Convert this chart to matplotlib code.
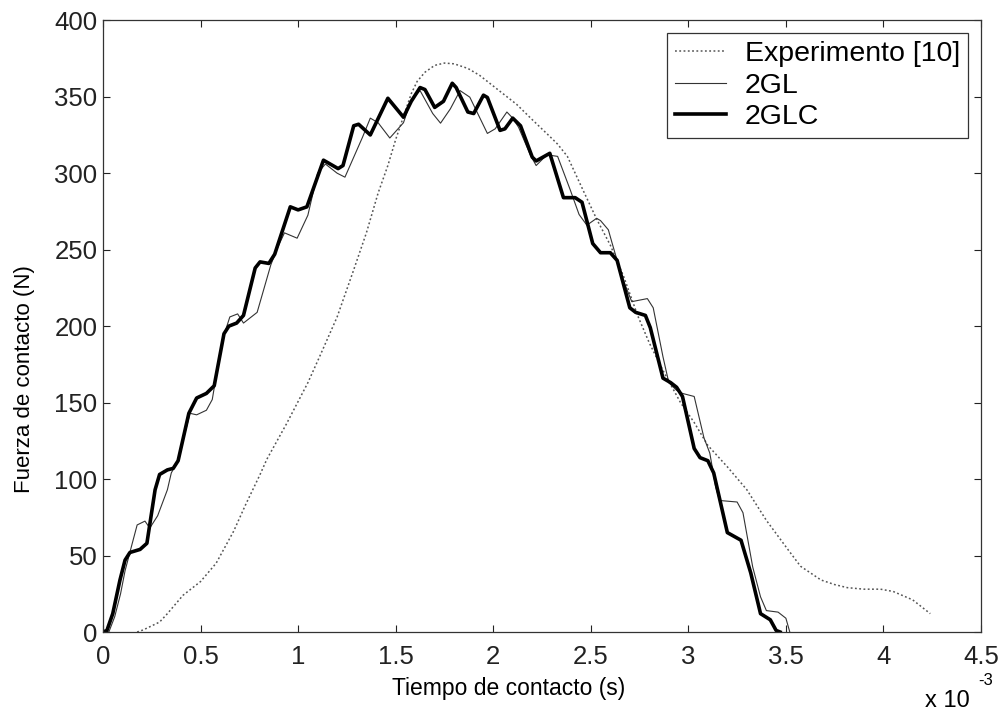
import numpy as np
import matplotlib.pyplot as plt

plt.rcParams['font.family'] = ['Liberation Sans', 'DejaVu Sans']

# Experimento [10] (tiempo en ms, fuerza en N)
t_exp = [0.175, 0.205, 0.29, 0.33, 0.41, 0.5, 0.58, 0.67, 0.73, 0.805, 0.84, 0.94, 1.05,
         1.11, 1.2, 1.28, 1.35, 1.41, 1.46, 1.5, 1.54, 1.58, 1.61, 1.65, 1.7, 1.75,
         1.8, 1.87, 1.93, 2.0, 2.05, 2.12, 2.2, 2.29, 2.33, 2.38, 2.42, 2.46, 2.53,
         2.6, 2.67, 2.74, 2.8, 2.87, 2.96, 3.03, 3.10, 3.2, 3.3, 3.4, 3.51, 3.575,
         3.68, 3.75, 3.815, 3.9, 3.985, 4.05, 4.15, 4.24]
f_exp = [0, 1.3, 6.5, 12, 24, 33, 45, 66, 83, 103, 113, 136, 163,
         180, 206, 235, 261, 287, 305, 322, 337, 352, 360, 366, 370.5, 372,
         371.5, 368.5, 364, 357, 352, 345, 335, 324, 319, 311, 300, 289, 270,
         253, 232, 207, 189, 171, 150, 137, 122, 108, 93, 73, 54, 43,
         34, 31, 29, 28, 28, 26.5, 21, 12]

# 2GL
t_2gl = [0, 0.03, 0.06, 0.09, 0.113, 0.15, 0.175, 0.215, 0.24, 0.28, 0.33, 0.35, 0.38,
         0.43, 0.446, 0.48, 0.53, 0.56, 0.61, 0.65, 0.69, 0.72, 0.79, 0.86, 0.89, 0.93,
         0.995, 1.05, 1.1, 1.14, 1.2, 1.24, 1.33, 1.37, 1.41, 1.47, 1.54, 1.58, 1.625,
         1.69, 1.73, 1.78, 1.83, 1.88, 1.97, 2.01, 2.07, 2.10, 2.13, 2.19, 2.22, 2.275,
         2.33, 2.395, 2.44, 2.48, 2.53, 2.55, 2.59, 2.61, 2.66, 2.71, 2.79, 2.82, 2.87,
         2.90, 2.94, 2.97, 3.03, 3.08, 3.11, 3.14, 3.16, 3.25, 3.28, 3.33, 3.37, 3.40,
         3.46, 3.5, 3.52]
f_2gl = [0, 0, 10, 25, 40, 58, 70, 72.5, 68, 76, 93, 104, 111,
         135, 143, 142, 145, 152, 190, 206, 208, 202, 209, 240, 250, 261,
         257.5, 272.5, 300, 306, 300, 297.4, 323.5, 336, 333, 323, 333, 348, 354,
         339, 332.7, 342, 354, 349.7, 326, 329, 340, 336, 330, 312, 305, 312,
         311, 289, 273, 266, 270.5, 269, 263, 254, 232, 216, 218, 212, 180,
         163, 158, 156, 154, 127, 117, 95, 86, 85, 78, 42.5, 23, 14,
         13, 9, 0]

# 2GLC
t_2glc = [0, 0.02, 0.05, 0.087, 0.113, 0.138, 0.19, 0.225, 0.267, 0.29, 0.33, 0.36, 0.385,
          0.44, 0.48, 0.53, 0.57, 0.62, 0.645, 0.685, 0.72, 0.78, 0.805, 0.85, 0.88, 0.96,
          1.0, 1.045, 1.13, 1.205, 1.23, 1.285, 1.31, 1.37, 1.46, 1.54, 1.58, 1.625, 1.65,
          1.70, 1.745, 1.79, 1.81, 1.87, 1.9, 1.95, 1.97, 2.035, 2.06, 2.10, 2.14, 2.2,
          2.22, 2.29, 2.36, 2.42, 2.455, 2.51, 2.55, 2.6, 2.635, 2.70, 2.73, 2.78, 2.805,
          2.87, 2.91, 2.94, 2.97, 3.03, 3.06, 3.10, 3.13, 3.2, 3.27, 3.32, 3.37, 3.42,
          3.45, 3.47]
f_2glc = [0, 1, 12, 34, 47, 52, 54, 58, 93, 103, 106, 107, 112,
          143, 153, 156, 161, 195, 200, 202, 207, 238, 242, 241, 247, 278,
          276, 278, 308.5, 303, 305, 331, 332, 325, 349, 336.6, 347, 356, 354.7,
          343, 347, 358.8, 356, 340, 339, 351, 349.5, 328, 329, 336, 331, 310.5,
          308, 313, 284, 284, 281, 254, 248, 248, 243, 212, 209, 207, 199,
          166, 163, 160, 154, 120, 114, 112, 104, 65, 60, 38.6, 12, 8,
          1, 0]

fig = plt.figure(figsize=(10, 7.13), dpi=100)
ax = fig.add_axes([0.103, 0.1136, 0.878, 0.858])

ax.plot(t_exp, f_exp, linestyle=(0, (1.2, 1.6)), color='#555555', linewidth=1.1,
        label='Experimento [10]')
ax.plot(t_2gl, f_2gl, color='#333333', linewidth=0.8, label='2GL')
ax.plot(t_2glc, f_2glc, color='black', linewidth=2.6, label='2GLC')

ax.set_xlim(0, 4.5)
ax.set_ylim(0, 400)
ax.set_xticks(np.arange(0, 4.51, 0.5))
ax.set_xticklabels(['0', '0.5', '1', '1.5', '2', '2.5', '3', '3.5', '4', '4.5'])
ax.set_yticks(np.arange(0, 401, 50))
ax.tick_params(direction='in', top=True, right=True, labelsize=18.5, length=5,
               width=0.8, pad=4, colors='#222222')
ax.tick_params(axis='x', pad=9)
for s in ax.spines.values():
    s.set_linewidth(0.9)
    s.set_color('#333333')

ax.set_xlabel('Tiempo de contacto (s)', fontsize=16.5)
ax.set_ylabel('Fuerza de contacto (N)', fontsize=16)
ax.xaxis.set_label_coords(0.462, -0.073)
ax.yaxis.set_label_coords(-0.077, 0.413)

# factor de escala del eje x
fig.text(0.925, 0.017, 'x 10', fontsize=17, ha='left', va='center')
fig.text(0.978, 0.045, '-3', fontsize=12, ha='left', va='center')

leg = ax.legend(loc='upper right', fontsize=20.5, frameon=True, fancybox=False,
                framealpha=1, edgecolor='#333333', borderaxespad=0.45,
                handlelength=1.8, handletextpad=0.65, labelspacing=0.2,
                borderpad=0.28)
leg.get_frame().set_linewidth(0.9)

fig.savefig('out.png', dpi=100)
